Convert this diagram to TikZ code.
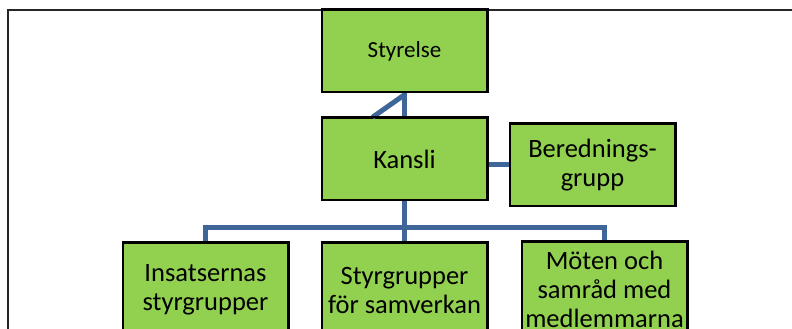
\documentclass[tikz,border=0pt]{standalone}
\usepackage{fontspec}
\setmainfont{Carlito}
\usepackage{xcolor}
\usetikzlibrary{positioning}
\usetikzlibrary{calc}

\definecolor{boxgreen}{RGB}{146,208,80}
\definecolor{linkblue}{RGB}{62,102,153}

\begin{document}
\begin{tikzpicture}[x=1pt,y=1pt,line width=1.5pt,
    orgbox/.style={draw=black,fill=boxgreen,minimum width=165pt,minimum height=82pt,
      align=center,font=\fontsize{26.5}{29}\selectfont,inner sep=2pt},
    lowbox/.style={orgbox,minimum height=94pt},
    link/.style={draw=linkblue,line width=5pt}]

  \useasboundingbox (0,0) rectangle (792,329);
  \clip (0,0) rectangle (792,329);

  \draw[black!85] (8,0) -- (8,319) -- (800,319);

  \node[orgbox,font=\fontsize{23}{28}\selectfont] at (404.5,278) (styr){Styrelse};
  \node[orgbox] at ([yshift=-108pt]styr) (kansli){Kansli};
  \node[orgbox] at ([xshift=188pt,yshift=-6pt]kansli) (bered){Berednings-\\grupp};
  \node[lowbox] at ([yshift=-131pt]kansli) (styrg){Styrgrupper\\för samverkan};
  \node[lowbox] at ([xshift=-199pt]styrg) (insats){Insatsernas\\styrgrupper};
  \node[lowbox] at ([xshift=200pt,yshift=1pt]styrg) (moten){Möten och\\samråd med\\medlemmarna};

  % Styrelse -- Kansli
  \draw[link] (styr.south) -- (kansli.north);
  \draw[link] ([yshift=-2pt]styr.south) -- ([xshift=-32pt]kansli.north);
  % Kansli -- Beredningsgrupp
  \draw[link] (bered.west) -- (bered.west -| kansli.east);
  % Kansli -- lower row
  \coordinate (bus) at ([yshift=15pt]styrg.north);
  \draw[link] (kansli.south) -- (styrg.north);
  \draw[link] (insats.north) |- (bus) -| (moten.north);

  % boxes on top of the links
  \foreach \n in {styr,kansli,bered,styrg,insats,moten}
    \draw[black] (\n.south west) rectangle (\n.north east);

\end{tikzpicture}
\end{document}
